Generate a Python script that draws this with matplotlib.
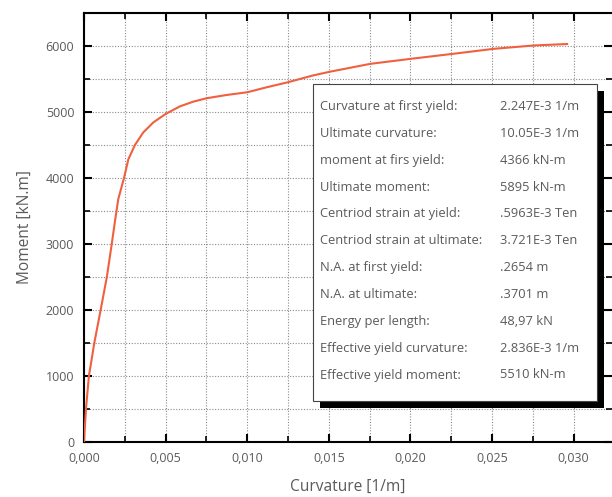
import matplotlib
matplotlib.use('Agg')
import matplotlib.pyplot as plt
from matplotlib.ticker import MultipleLocator, FuncFormatter
from matplotlib.patches import Rectangle

# datos
curvatura = [0.0, 0.00012, 0.0003, 0.0005, 0.00063, 0.00102, 0.0014, 0.0017, 0.0019,
             0.0021, 0.00245, 0.00272, 0.00312, 0.00363, 0.00425, 0.0050, 0.00588,
             0.0067, 0.0075, 0.00874, 0.0100, 0.0112, 0.0125, 0.0140, 0.0151,
             0.01755, 0.0200, 0.02256, 0.0251, 0.02755, 0.0296]
momento = [0, 500, 1000, 1300, 1500, 2000, 2500, 3000, 3350,
           3680, 4000, 4285, 4500, 4690, 4843, 4970, 5086,
           5157, 5208, 5258, 5299, 5375, 5451, 5552, 5612,
           5730, 5805, 5880, 5957, 6008, 6030]

etiquetas = ['Curvature at first yield:', 'Ultimate curvature:', 'moment at firs yield:',
             'Ultimate moment:', 'Centriod strain at yield:', 'Centriod strain at ultimate:',
             'N.A. at first yield:', 'N.A. at ultimate:', 'Energy per length:',
             'Effective yield curvature:', 'Effective yield moment:']
valores = ['2.247E-3 1/m', '10.05E-3 1/m', '4366 kN-m', '5895 kN-m', '.5963E-3 Ten',
           '3.721E-3 Ten', '.2654 m', '.3701 m', '48,97 kN', '2.836E-3 1/m', '5510 kN-m']

plt.rcParams['font.family'] = ['Open Sans', 'DejaVu Sans']
gris = '#5a5a5a'

fig = plt.figure(figsize=(6.12, 4.97), dpi=100)
ax = fig.add_axes([84 / 612, 55 / 497, 1 - 84 / 612, 429 / 497])

ax.plot(curvatura, momento, color='#f0603f', linewidth=1.5, zorder=3)

ax.set_xlim(0, 0.03235)
ax.set_ylim(0, 6500)
ax.xaxis.set_major_locator(MultipleLocator(0.005))
ax.xaxis.set_minor_locator(MultipleLocator(0.0025))
ax.yaxis.set_major_locator(MultipleLocator(1000))
ax.yaxis.set_minor_locator(MultipleLocator(500))
ax.xaxis.set_major_formatter(FuncFormatter(lambda v, p: f'{v:.3f}'.replace('.', ',')))

ax.grid(True, which='both', linestyle=(0, (1, 1.5)), color='#8a8a8a', linewidth=0.8)
ax.tick_params(which='both', direction='in', top=True, right=True, colors='black',
               labelcolor=gris, labelsize=9)
ax.tick_params(which='major', length=6, width=1.5)
ax.tick_params(which='minor', length=4, width=1.2)
ax.tick_params(axis='x', which='major', pad=7)
ax.tick_params(axis='y', which='major', pad=7)
for s in ax.spines.values():
    s.set_linewidth(1.5)
ax.spines['right'].set_visible(False)

ax.set_xlabel('Curvature [1/m]', fontsize=11.2, color=gris, labelpad=10)
ax.set_ylabel('Moment [kN.m]', fontsize=11.2, color=gris, labelpad=9)

# cuadro de resultados con sombra
x0, y0, x1, y1 = 313 / 612, 1 - 401 / 497, 597 / 612, 1 - 84 / 497
fig.patches.append(Rectangle((x0 + 7 / 612, y0 - 7 / 497), x1 - x0, y1 - y0,
                             transform=fig.transFigure, facecolor='black', zorder=5))
fig.patches.append(Rectangle((x0, y0), x1 - x0, y1 - y0, transform=fig.transFigure,
                             facecolor='white', edgecolor='#444444', linewidth=0.8, zorder=6))
for i, (e, v) in enumerate(zip(etiquetas, valores)):
    yy = 1 - (106.5 + i * 26.85) / 497
    fig.text(320 / 612, yy, e, fontsize=9.3, color=gris, va='center', zorder=7)
    fig.text(500 / 612, yy, v, fontsize=9.3, color=gris, va='center', zorder=7)

fig.savefig('out.png', dpi=100)
